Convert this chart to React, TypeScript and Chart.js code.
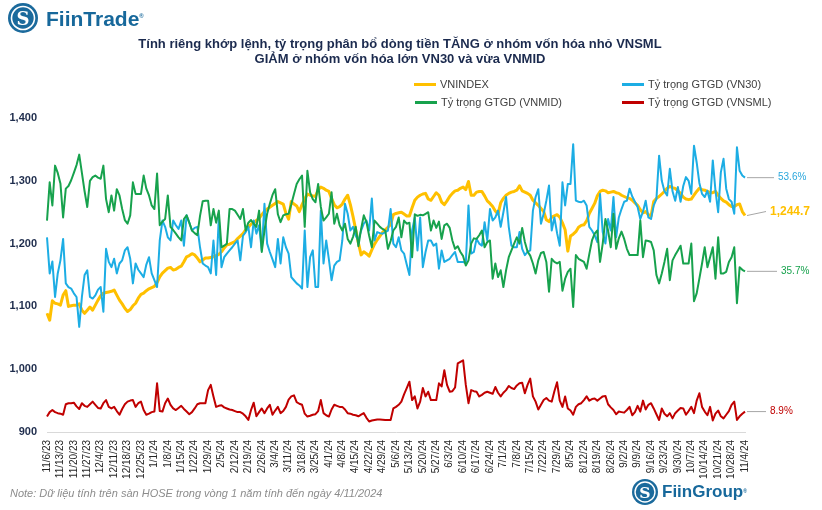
import React, { useEffect, useRef } from 'react';
import { Chart, registerables } from 'chart.js';

Chart.register(...registerables);

const weekLabels = [
  '11/6/23', '11/13/23', '11/20/23', '11/27/23', '12/4/23', '12/11/23', '12/18/23', '12/25/23',
  '1/1/24', '1/8/24', '1/15/24', '1/22/24', '1/29/24', '2/5/24', '2/12/24', '2/19/24', '2/26/24',
  '3/4/24', '3/11/24', '3/18/24', '3/25/24', '4/1/24', '4/8/24', '4/15/24', '4/22/24', '4/29/24',
  '5/6/24', '5/13/24', '5/20/24', '5/27/24', '6/3/24', '6/10/24', '6/17/24', '6/24/24', '7/1/24',
  '7/8/24', '7/15/24', '7/22/24', '7/29/24', '8/5/24', '8/12/24', '8/19/24', '8/26/24', '9/2/24',
  '9/9/24', '9/16/24', '9/23/24', '9/30/24', '10/7/24', '10/14/24', '10/21/24', '10/28/24', '11/4/24',
];

const yTicks = [900, 1000, 1100, 1200, 1300, 1400];

const vnindex = [
  1089, 1078, 1109, 1105, 1104, 1102, 1118, 1125, 1100, 1101,
  1102, 1102, 1104, 1094, 1089, 1094, 1099, 1094, 1102, 1110,
  1117, 1121, 1122, 1123, 1124, 1126, 1118, 1110, 1104, 1097,
  1092, 1095, 1101, 1105, 1113, 1119, 1121, 1125, 1128, 1130,
  1132, 1138, 1147, 1153, 1157, 1161, 1162, 1158, 1159, 1162,
  1164, 1171, 1179, 1181, 1184, 1182, 1177, 1171, 1174, 1177,
  1177, 1178, 1179, 1181, 1183,
  1187, 1193, 1198, 1199, 1201, 1203, 1208, 1212, 1216, 1222,
  1226, 1231, 1233, 1237, 1240, 1246, 1251, 1255, 1258, 1261,
  1264, 1267, 1265, 1263, 1248, 1239, 1267, 1263, 1260, 1251,
  1262, 1271, 1279, 1277, 1276, 1275, 1286, 1290, 1288, 1285,
  1283, 1272, 1262, 1257, 1259, 1263, 1271, 1277, 1262, 1243,
  1222, 1201, 1182, 1187, 1184, 1180, 1190, 1199, 1206, 1212,
  1218, 1222, 1226, 1230, 1246,
  1248, 1249, 1250, 1247, 1244, 1244, 1257, 1269, 1274, 1277,
  1279, 1280, 1271, 1269, 1275, 1281, 1277, 1266, 1262, 1268,
  1275, 1280, 1284, 1285, 1288, 1290, 1286, 1299, 1277, 1277,
  1282, 1283, 1283, 1276, 1268, 1264, 1259, 1252, 1247, 1265,
  1272, 1277, 1280, 1282, 1283, 1285, 1292, 1284, 1282, 1280,
  1277, 1269, 1265, 1261, 1256, 1251, 1238, 1235, 1242, 1244,
  1246, 1242, 1233, 1222, 1188, 1212,
  1215, 1219, 1226, 1229, 1230, 1236, 1248, 1256, 1264, 1276,
  1283, 1285, 1284, 1281, 1282, 1283, 1281, 1280, 1277, 1275,
  1273, 1272, 1269, 1265, 1261, 1254, 1249, 1251, 1246, 1244,
  1267, 1272, 1275, 1279, 1283, 1288, 1291, 1289, 1288, 1284,
  1280, 1274, 1271, 1270, 1271, 1277, 1283, 1288, 1286, 1285,
  1283, 1281, 1281, 1283, 1277, 1272, 1268, 1266, 1262, 1259,
  1259, 1262, 1263, 1251, 1244.7,
];

const shareVN30 = [
  42.2, 35.3, 37.6, 30.8, 35.3, 37.8, 41.9, 33.4, 32.7, 32.4,
  31.5, 30.8, 25.1, 30.8, 35.0, 35.9, 30.8, 30.5, 31.1, 32.2,
  32.7, 28.0, 40.0, 37.5, 36.5, 38.1, 35.3, 37.2, 37.8, 39.7,
  40.3, 38.1, 33.4, 37.2, 36.0, 35.3, 34.6, 37.0, 38.4, 35.3,
  34.0, 32.7, 41.6, 45.4, 44.2, 42.2, 41.6, 45.4, 44.5, 43.8,
  45.4, 40.6, 46.4, 45.0, 43.5, 44.0, 44.2, 40.3, 37.2, 36.8,
  36.5, 35.3, 41.6, 35.0, 46.0,
  36.5, 38.4, 39.1, 39.7, 40.3, 41.0, 41.6, 37.8, 42.5, 43.2,
  44.2, 40.3, 45.4, 42.9, 44.5, 39.7, 48.6, 41.0, 39.4, 38.0,
  36.5, 41.9, 37.2, 42.2, 40.3, 39.1, 34.6, 34.0, 33.4, 33.0,
  32.4, 43.5, 32.7, 38.4, 39.7, 32.7, 32.7, 47.3, 37.2, 41.6,
  38.0, 34.0, 36.8, 37.5, 37.8, 41.6, 48.6, 46.7, 43.5, 44.2,
  42.5, 41.6, 43.5, 44.8, 45.4, 43.5, 49.6, 41.6, 43.2, 43.0,
  42.9, 43.2, 43.5, 47.6, 41.0,
  40.3, 42.2, 39.7, 39.1, 37.0, 35.0, 43.5, 46.0, 39.7, 46.0,
  36.5, 39.4, 41.6, 41.6, 40.6, 41.0, 36.2, 39.7, 37.5, 37.8,
  38.1, 38.8, 39.4, 37.5, 37.5, 37.5, 37.2, 48.3, 39.1, 39.4,
  41.9, 41.0, 40.6, 45.1, 41.6, 47.6, 45.4, 46.0, 47.3, 44.2,
  47.0, 49.9, 44.2, 40.6, 40.3, 40.3, 43.2, 40.0, 38.8, 39.4,
  39.7, 47.3, 49.9, 51.4, 44.8, 46.7, 49.2, 52.1, 43.5, 46.0,
  43.0, 40.6, 52.7, 48.3, 52.4, 52.4,
  60.0, 49.2, 49.0, 48.9, 49.2, 48.3, 44.2, 43.5, 42.6, 41.3,
  50.5, 43.2, 41.0, 45.7, 43.5, 49.9, 42.2, 46.0, 47.6, 49.0,
  49.2, 51.5, 50.0, 49.0, 48.0, 45.7, 47.1, 49.2, 46.0, 45.7,
  48.3, 49.5, 57.8, 53.0, 51.0, 50.2, 55.3, 51.0, 49.2, 51.8,
  49.0, 52.0, 53.7, 53.0, 50.5, 59.7, 56.5, 52.6, 50.5, 49.9,
  51.1, 49.0, 56.9, 51.1, 47.0, 54.6, 57.2, 51.5, 49.5, 49.0,
  46.7, 59.4, 54.9, 54.0, 53.6,
];

const shareVNMID = [
  45.4, 52.7, 48.3, 55.9, 54.5, 52.5, 46.0, 51.5, 52.0, 53.1,
  54.5, 56.0, 58.0, 54.5, 51.0, 48.0, 53.0, 53.7, 54.0, 53.6,
  53.4, 55.9, 49.5, 47.0, 50.2, 47.3, 51.4, 50.2, 47.6, 45.5,
  44.8, 46.4, 52.7, 50.5, 50.5, 50.5, 54.0, 51.5, 50.2, 48.3,
  47.6, 54.4, 44.5, 45.2, 45.7, 50.2, 44.2, 43.6, 42.9, 42.2,
  41.6, 45.7, 46.4, 45.0, 43.5, 43.0, 42.6, 46.3, 49.1, 49.2,
  49.2, 44.5, 47.6, 45.0, 47.3,
  40.3, 40.6, 41.0, 47.6, 47.6, 47.3, 46.5, 45.7, 47.6, 43.5,
  45.0, 45.5, 44.8, 44.2, 47.3, 39.4, 43.5, 46.7, 48.6, 50.3,
  51.4, 46.6, 45.1, 46.4, 46.6, 46.7, 48.5, 50.5, 52.4, 53.3,
  54.0, 44.2, 54.9, 50.8, 49.5, 48.9, 52.4, 48.0, 45.4, 46.0,
  46.7, 50.8, 44.8, 46.7, 44.5, 43.5, 44.8, 41.9, 41.0, 42.3,
  44.2, 40.5, 43.8, 46.4, 45.1, 42.5, 40.3, 45.4, 44.8, 44.2,
  43.8, 43.5, 40.0, 41.5, 43.5,
  44.2, 46.0, 42.2, 45.4, 44.8, 45.0, 38.4, 46.6, 46.3, 46.5,
  46.4, 46.7, 47.0, 43.5, 45.4, 44.0, 45.2, 41.9, 44.5, 44.8,
  44.0, 41.6, 40.0, 40.5, 39.4, 38.6, 36.8, 37.8, 41.0, 42.0,
  41.9, 42.6, 43.5, 40.3, 41.3, 41.6, 34.3, 37.2, 34.6, 35.9,
  32.7, 35.9, 38.4, 39.7, 41.0, 42.2, 41.0, 44.0, 41.3, 39.5,
  38.7, 37.2, 35.3, 37.8, 39.2, 39.4, 37.5, 31.8, 38.1, 37.5,
  37.2, 37.5, 32.0, 34.3, 35.6, 36.2,
  28.9, 38.8, 38.1, 37.8, 37.5, 36.2, 39.0, 41.6, 42.9, 43.5,
  37.5, 41.0, 45.7, 43.5, 40.3, 46.7, 40.0, 42.0, 43.3, 41.9,
  40.0, 38.8, 38.8, 38.8, 38.8, 45.4, 38.4, 41.6, 41.5, 41.3,
  39.7, 35.0, 33.4, 35.3, 37.5, 40.0, 34.0, 37.8, 38.8, 39.7,
  40.6, 37.2, 37.2, 37.2, 41.0, 30.0, 31.5, 34.3, 37.2, 40.3,
  36.5, 38.4, 40.3, 34.3, 42.2, 35.3, 35.3, 35.6, 37.5, 38.4,
  40.3, 29.6, 36.5, 36.0, 35.7,
];

const shareVNSML = [
  7.95, 8.8, 9.2, 8.8, 8.6, 8.5, 8.3, 10.3, 10.5, 10.5,
  10.6, 9.9, 9.4, 10.5, 10.0, 9.8, 10.3, 10.8, 10.2, 9.6,
  9.5, 10.5, 11.1, 9.8, 9.5, 9.8, 9.0, 8.3, 9.4, 10.3,
  10.8, 11.0, 11.1, 9.8, 10.5, 10.8, 9.2, 8.3, 8.5, 8.8,
  8.9, 14.3, 9.0, 8.9, 10.5, 11.4, 10.2, 9.5, 9.2, 9.6,
  10.0, 9.4, 8.9, 8.4, 8.8, 9.5, 10.3, 10.5, 10.5, 10.5,
  13.0, 14.0, 11.8, 9.8, 10.0,
  10.1, 9.7, 9.5, 9.3, 9.2, 9.0, 8.8, 8.8, 8.5, 8.0,
  7.3, 9.2, 10.6, 8.0, 8.8, 9.5, 8.6, 9.5, 10.2, 8.3,
  9.1, 9.8, 8.6, 9.0, 9.8, 11.2, 11.8, 12.0, 10.7, 10.4,
  10.2, 8.5, 7.95, 8.1, 8.3, 8.4, 9.0, 11.1, 8.6, 8.2,
  7.95, 9.3, 10.2, 10.0, 9.8, 9.8, 9.3, 8.6, 8.5, 8.3,
  8.2, 8.0, 8.3, 8.6, 7.7, 7.0, 7.2, 7.3, 7.4, 7.4,
  7.35, 7.3, 7.3, 7.3, 9.5,
  9.8, 10.2, 10.8, 12.2, 13.4, 14.6, 11.1, 11.8, 9.5, 10.8,
  13.4, 11.8, 12.7, 11.1, 11.1, 11.1, 14.3, 13.7, 16.8, 14.0,
  12.7, 12.8, 13.5, 18.1, 18.4, 18.7, 14.0, 10.5, 13.0, 12.8,
  12.7, 11.8, 12.1, 12.5, 12.7, 12.5, 12.3, 13.6, 12.5, 11.8,
  12.5, 13.0, 13.8, 13.4, 13.2, 13.9, 14.3, 14.4, 12.4, 14.0,
  15.2, 11.8, 10.8, 9.3, 10.2, 11.1, 11.5, 11.0, 10.8, 12.8,
  14.5, 11.0, 9.8, 11.8, 9.5, 9.1,
  8.3, 9.8, 10.3, 10.5, 11.1, 11.8, 11.0, 11.3, 11.4, 11.0,
  11.4, 11.8, 11.9, 10.3, 9.7, 9.2, 8.4, 8.9, 8.8, 8.7,
  9.2, 9.8, 8.2, 8.8, 10.0, 8.9, 11.0, 9.3, 10.2, 10.5,
  9.5, 8.4, 7.3, 9.5, 8.5, 8.0, 8.6, 7.6, 8.6, 9.1,
  9.6, 9.5, 8.3, 9.0, 9.8, 8.6, 11.0, 12.4, 9.8, 8.9,
  8.2, 9.8, 7.2, 8.5, 9.1, 8.0, 7.6, 8.3, 9.0, 10.2,
  10.8, 7.3, 8.0, 8.5, 8.9,
];

// one category per weekday; each week starts on the labelled Monday
const categories: string[] = weekLabels.flatMap((l, i) =>
  i < weekLabels.length - 1 ? [l, '', '', '', ''] : [l]
);

const FONT = '"Liberation Sans", Arial, Helvetica, sans-serif';

const seriesStyles = [
  { label: 'VNINDEX', color: '#FFC000', width: 3, axis: 'y', order: 4 },
  { label: 'Tỷ trọng GTGD (VN30)', color: '#1CADE4', width: 2, axis: 'y1', order: 3 },
  { label: 'Tỷ trọng GTGD (VNMID)', color: '#17A24D', width: 2, axis: 'y1', order: 2 },
  { label: 'Tỷ trọng GTGD (VNSML)', color: '#C00000', width: 2, axis: 'y1', order: 1 },
];

const endLabelStyles = [
  { dx: 25, dy: -4, color: '#FFC000', font: `bold 12px ${FONT}`, fmt: (v: number) => v.toLocaleString('en-US', { minimumFractionDigits: 1, maximumFractionDigits: 1 }) },
  { dx: 33, dy: 0, color: '#2AA7DC', font: `10px ${FONT}`, fmt: (v: number) => v.toFixed(1) + '%' },
  { dx: 36, dy: 0, color: '#17A24D', font: `10px ${FONT}`, fmt: (v: number) => v.toFixed(1) + '%' },
  { dx: 25, dy: 0, color: '#C00000', font: `10px ${FONT}`, fmt: (v: number) => v.toFixed(1) + '%' },
];

const endLabelPlugin = {
  id: 'endLabels',
  afterDatasetsDraw(chart: any) {
    const ctx = chart.ctx;
    chart.data.datasets.forEach((ds: any, i: number) => {
      const meta = chart.getDatasetMeta(i);
      const pt = meta.data[meta.data.length - 1];
      if (!pt) return;
      const st = endLabelStyles[i];
      const lx = pt.x + st.dx;
      const ly = pt.y + st.dy;
      ctx.save();
      ctx.strokeStyle = '#A6A6A6';
      ctx.lineWidth = 1;
      ctx.beginPath();
      ctx.moveTo(pt.x + 2, pt.y);
      ctx.lineTo(lx - 4, ly);
      ctx.stroke();
      ctx.font = st.font;
      ctx.fillStyle = st.color;
      ctx.textAlign = 'left';
      ctx.textBaseline = 'middle';
      ctx.fillText(st.fmt(ds.data[ds.data.length - 1]), lx, ly);
      ctx.restore();
    });
  },
};

function Logo({ size }: { size: number }) {
  return (
    <svg width={size} height={size} viewBox="0 0 30 30">
      <circle cx="15" cy="15" r="15" fill="#1B6A9C" />
      <circle cx="15" cy="15" r="11.5" fill="none" stroke="#FFFFFF" strokeWidth="1.6" />
      <text x="15" y="21.5" textAnchor="middle" fontFamily="DejaVu Serif, serif" fontWeight="bold" fontSize="18" fill="#FFFFFF">S</text>
    </svg>
  );
}

export default function App() {
  const canvasRef = useRef<HTMLCanvasElement | null>(null);

  useEffect(() => {
    document.body.style.margin = '0';
    const canvas = canvasRef.current;
    if (!canvas) return;
    const seriesData = [vnindex, shareVN30, shareVNMID, shareVNSML];
    const chart = new Chart(canvas, {
      type: 'line',
      data: {
        labels: categories,
        datasets: seriesStyles.map((s, i) => ({
          label: s.label,
          data: seriesData[i],
          borderColor: s.color,
          backgroundColor: s.color,
          borderWidth: s.width,
          yAxisID: s.axis,
          order: s.order,
          pointRadius: 0,
          tension: 0,
          fill: false,
          borderJoinStyle: 'round' as const,
        })),
      },
      options: {
        responsive: false,
        animation: false,
        layout: { padding: { top: 118, right: 77, bottom: 28, left: 0 } },
        plugins: {
          legend: { display: false },
          tooltip: { enabled: false },
          title: { display: false },
        },
        scales: {
          x: {
            type: 'category',
            offset: false,
            grid: { display: false, drawTicks: false },
            border: { display: true, color: '#D9D9D9', width: 1 },
            ticks: {
              autoSkip: false,
              minRotation: 90,
              maxRotation: 90,
              padding: 8,
              color: '#262626',
              font: { family: FONT, size: 10 },
              callback: (_v: any, idx: number) => (idx % 5 === 0 ? categories[idx] : null),
            },
            afterFit: (scale: any) => { scale.height = 50; },
          },
          y: {
            min: 900,
            max: 1400,
            afterBuildTicks: (scale: any) => { scale.ticks = yTicks.map((v) => ({ value: v })); },
            grid: { display: false, drawTicks: false },
            border: { display: false },
            ticks: {
              padding: 10,
              color: '#1F2D4D',
              font: { family: FONT, size: 11, weight: 'bold' },
              callback: (v: any) => Number(v).toLocaleString('en-US'),
            },
            afterFit: (scale: any) => { scale.width = 47; },
          },
          y1: {
            display: false,
            min: 5,
            max: 65,
            grid: { display: false },
          },
        },
      },
      plugins: [endLabelPlugin],
    } as any);
    return () => chart.destroy();
  }, []);

  const legendItems = [
    { i: 0, x: 414, y: 84 },
    { i: 1, x: 622, y: 84 },
    { i: 2, x: 415, y: 102 },
    { i: 3, x: 622, y: 102 },
  ];

  return (
    <div style={{ position: 'fixed', left: 0, top: 0, width: 822, height: 510, background: '#FFFFFF', fontFamily: FONT, overflow: 'hidden' }}>
      <canvas ref={canvasRef} width={822} height={510} style={{ position: 'absolute', left: 0, top: 0, width: 822, height: 510 }} />

      <div style={{ position: 'absolute', left: 8, top: 3 }}><Logo size={30} /></div>
      <div style={{ position: 'absolute', left: 46, top: 6, fontSize: 21, lineHeight: '25px', fontWeight: 'bold', color: '#17689B', whiteSpace: 'nowrap' }}>
        FiinTrade<sup style={{ fontSize: 6, verticalAlign: 'top', position: 'relative', top: -2 }}>®</sup>
      </div>

      <div style={{ position: 'absolute', left: 0, top: 36, width: 800, textAlign: 'center', fontSize: 13, lineHeight: '15px', fontWeight: 'bold', color: '#1B2A4E' }}>
        <div>Tính riêng khớp lệnh, tỷ trọng phân bổ dòng tiền TĂNG ở nhóm vốn hóa nhỏ VNSML</div>
        <div>GIẢM ở nhóm vốn hóa lớn VN30 và vừa VNMID</div>
      </div>

      {legendItems.map((it) => (
        <div key={it.i} style={{ position: 'absolute', left: it.x, top: it.y - 8, height: 16, display: 'flex', alignItems: 'center', whiteSpace: 'nowrap' }}>
          <div style={{ width: 22, height: 3, background: seriesStyles[it.i].color, marginRight: 4 }} />
          <span style={{ fontSize: 11, color: '#404040' }}>{seriesStyles[it.i].label}</span>
        </div>
      ))}

      <div style={{ position: 'absolute', left: 10, top: 486, fontSize: 11, lineHeight: '14px', fontStyle: 'italic', color: '#8C8C8C', whiteSpace: 'nowrap' }}>
        Note: Dữ liệu tính trên sàn HOSE trong vòng 1 năm tính đến ngày 4/11/2024
      </div>

      <div style={{ position: 'absolute', left: 632, top: 479 }}><Logo size={26} /></div>
      <div style={{ position: 'absolute', left: 662, top: 481, fontSize: 17, lineHeight: '22px', fontWeight: 'bold', color: '#17689B', whiteSpace: 'nowrap' }}>
        FiinGroup<sup style={{ fontSize: 5, verticalAlign: 'top', position: 'relative', top: -1 }}>®</sup>
      </div>
    </div>
  );
}
